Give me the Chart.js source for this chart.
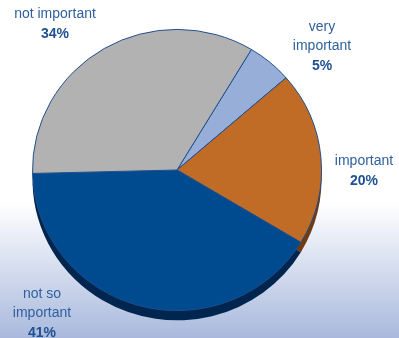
<!DOCTYPE html>
<html>
<head>
<meta charset="utf-8">
<script src="https://cdn.jsdelivr.net/npm/chart.js@4"></script>
<style>
  html, body { margin: 0; padding: 0; background: #fff; }
  #wrap { width: 399px; height: 338px; }
</style>
</head>
<body>
<div id="wrap"><canvas id="pie"></canvas></div>
<script>
const labels = [['very', 'important'], ['important'], ['not so', 'important'], ['not important']];
const shares = [5, 20, 41, 34];
const sliceColors = ['#97aed9', '#c06c26', '#004a8f', '#b2b2b2'];
const edgeColors = ['#5d77a8', '#6e3b12', '#00254f', '#7a7a7a'];

// gradient backdrop: white at the top, fading into pale blue near the bottom
const backdrop = {
  id: 'backdrop',
  beforeDraw(chart) {
    const { ctx, width, height } = chart;
    const g = ctx.createLinearGradient(0, 0, 0, height);
    g.addColorStop(0, '#ffffff');
    g.addColorStop(0.6, '#ffffff');
    g.addColorStop(1, '#a9b9dd');
    ctx.save();
    ctx.fillStyle = g;
    ctx.fillRect(0, 0, width, height);
    ctx.restore();
  }
};

// tilt the pie a little and give it thickness by repeating each slice lower down
const depth = {
  id: 'depth',
  beforeDatasetsDraw(chart, args, opts) {
    const { ctx } = chart;
    const arcs = chart.getDatasetMeta(0).data;
    const cx = arcs[0].x, cy = arcs[0].y;
    ctx.save();
    ctx.translate(cx, cy);
    ctx.scale(1, opts.tilt);
    ctx.translate(-cx, -cy);
    arcs.forEach((arc, i) => {
      const p = arc.getProps(['x', 'y', 'startAngle', 'endAngle', 'outerRadius'], true);
      ctx.beginPath();
      ctx.moveTo(p.x, p.y + opts.size);
      ctx.arc(p.x, p.y + opts.size, p.outerRadius, p.startAngle, p.endAngle);
      ctx.closePath();
      ctx.fillStyle = edgeColors[i];
      ctx.fill();
    });
  },
  afterDatasetsDraw(chart) {
    chart.ctx.restore();
  }
};

// category name plus bold percentage beside each slice
const sliceLabels = {
  id: 'sliceLabels',
  afterDatasetsDraw(chart, args, opts) {
    const { ctx } = chart;
    const arc = chart.getDatasetMeta(0).data[0];
    const cx = arc.x, cy = arc.y;
    ctx.save();
    ctx.textAlign = 'center';
    ctx.textBaseline = 'middle';
    labels.forEach((lines, i) => {
      const [dx, dy] = opts.offsets[i];
      let y = cy + dy;
      ctx.fillStyle = '#2f5f9e';
      ctx.font = '14px "Liberation Sans", Arial, sans-serif';
      lines.forEach(line => {
        ctx.fillText(line, cx + dx, y);
        y += opts.lineHeight;
      });
      ctx.fillStyle = '#1f5090';
      ctx.font = 'bold 14px "Liberation Sans", Arial, sans-serif';
      ctx.fillText(shares[i] + '%', cx + dx, y + 1);
    });
    ctx.restore();
  }
};

new Chart(document.getElementById('pie'), {
  type: 'pie',
  data: {
    labels: labels.map(l => l.join(' ')),
    datasets: [{
      data: shares,
      backgroundColor: sliceColors,
      borderColor: '#1f4e8c',
      borderWidth: 1
    }]
  },
  options: {
    responsive: true,
    maintainAspectRatio: false,
    animation: false,
    events: [],
    rotation: 31,
    layout: { padding: { left: 32, right: 77, top: 25, bottom: 23 } },
    plugins: {
      legend: { display: false },
      tooltip: { enabled: false },
      depth: { size: 10, tilt: 0.973 },
      sliceLabels: {
        lineHeight: 19,
        offsets: [[145, -143], [187, -9], [-135, 124], [-122, -156]]
      }
    }
  },
  plugins: [backdrop, depth, sliceLabels]
});
</script>
</body>
</html>
